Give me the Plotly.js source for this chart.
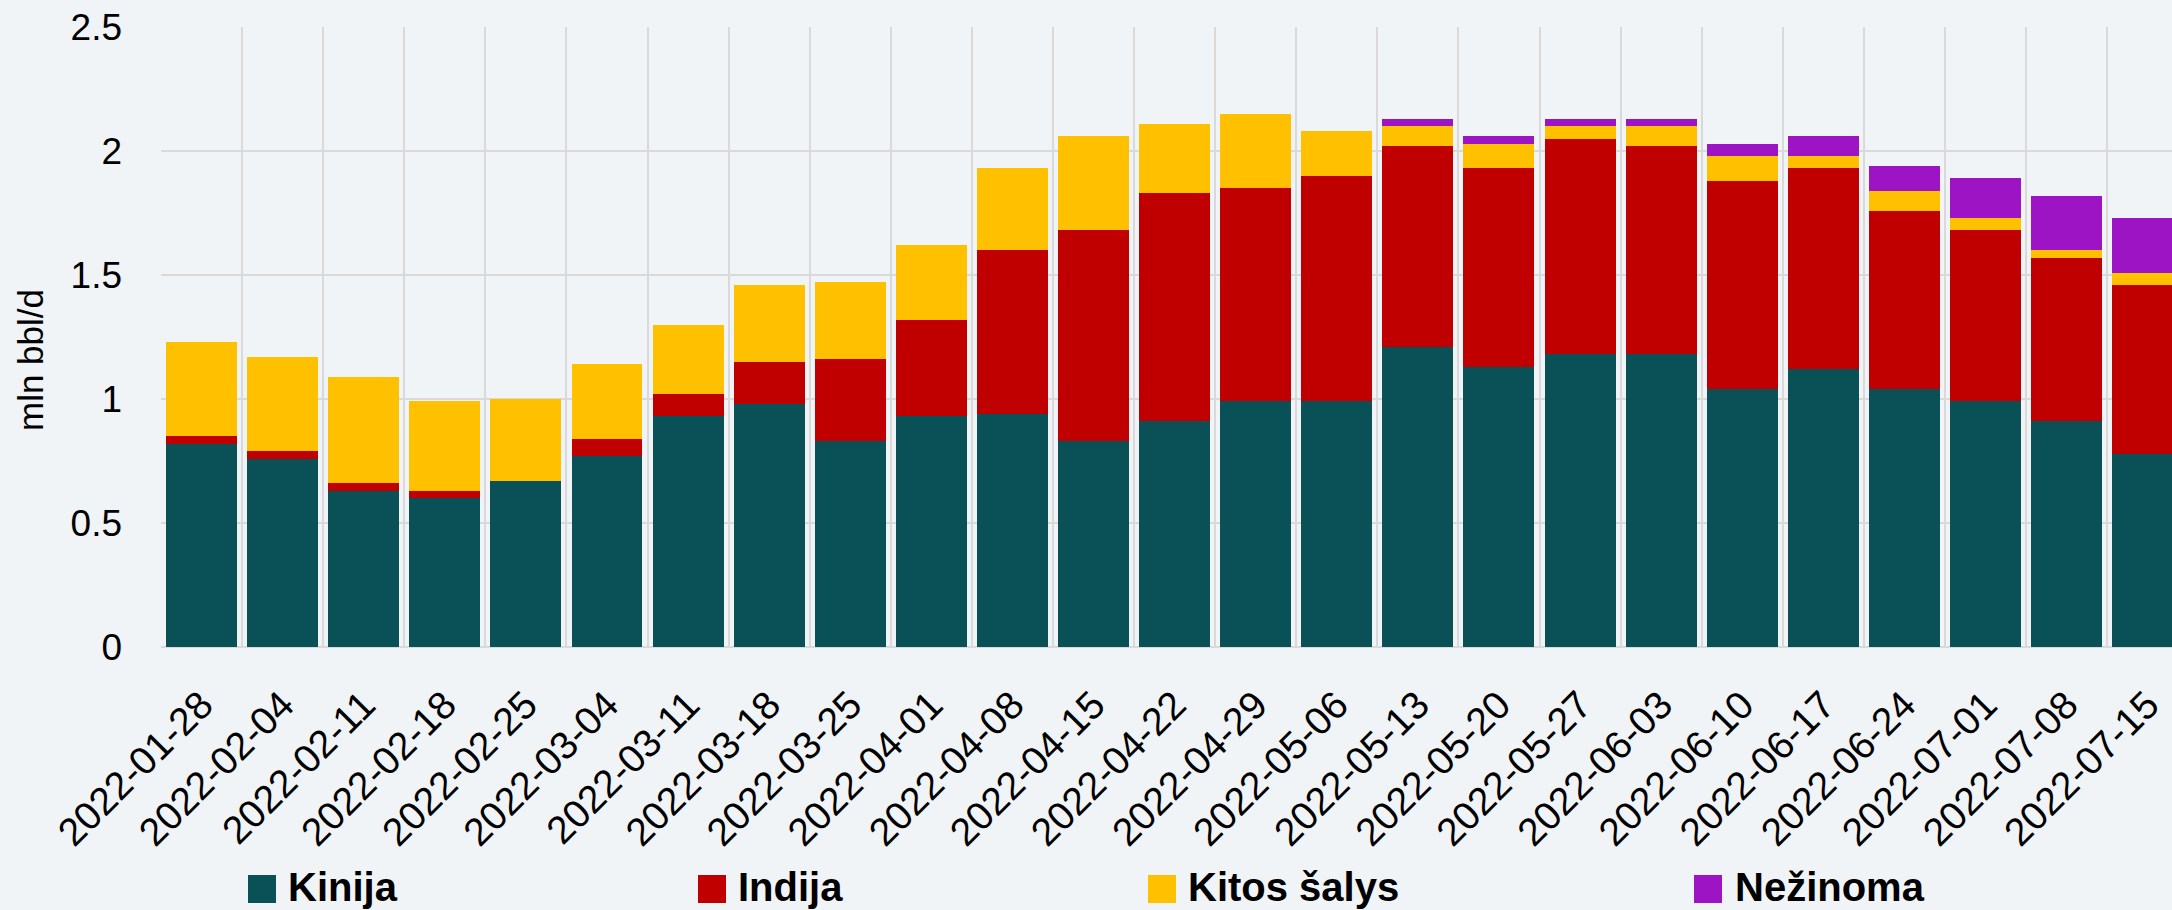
<!DOCTYPE html>
<html>
<head>
<meta charset="utf-8">
<script src="https://cdn.plot.ly/plotly-3.0.1.min.js"></script>
<style>
  html, body { margin: 0; padding: 0; background: #f0f4f7; }
  #chart { width: 2172px; height: 910px; }
</style>
</head>
<body>
<div id="chart"></div>
<script>
const weeks = ['2022-01-28','2022-02-04','2022-02-11','2022-02-18','2022-02-25','2022-03-04','2022-03-11','2022-03-18','2022-03-25','2022-04-01','2022-04-08','2022-04-15','2022-04-22','2022-04-29','2022-05-06','2022-05-13','2022-05-20','2022-05-27','2022-06-03','2022-06-10','2022-06-17','2022-06-24','2022-07-01','2022-07-08','2022-07-15'];
const kinija   = [0.82,0.76,0.63,0.60,0.67,0.77,0.93,0.98,0.83,0.93,0.94,0.83,0.91,0.99,0.99,1.21,1.13,1.18,1.18,1.04,1.12,1.04,0.99,0.91,0.78];
const indija   = [0.03,0.03,0.03,0.03,0.00,0.07,0.09,0.17,0.33,0.39,0.66,0.85,0.92,0.86,0.91,0.81,0.80,0.87,0.84,0.84,0.81,0.72,0.69,0.66,0.68];
const kitos    = [0.38,0.38,0.43,0.36,0.33,0.30,0.28,0.31,0.31,0.30,0.33,0.38,0.28,0.30,0.18,0.08,0.10,0.05,0.08,0.10,0.05,0.08,0.05,0.03,0.05];
const nezinoma = [0,0,0,0,0,0,0,0,0,0,0,0,0,0,0,0.03,0.03,0.03,0.03,0.05,0.08,0.10,0.16,0.22,0.22];
const seriesNames = ['Kinija','Indija','Kitos šalys','Nežinoma'];
const yTitle = 'mln bbl/d';

const colors = ['#095057','#c00000','#ffc000','#9c14c4'];
const FONT = '"Liberation Sans", Arial, sans-serif';
const W = 2172, H = 910;
const M = {l: 161, r: 0, t: 27, b: 263};
const pw = W - M.l - M.r, ph = H - M.t - M.b;
const px = x => (x - M.l) / pw;
const py = y => (H - M.b - y) / ph;

const values = [kinija, indija, kitos, nezinoma];
const traces = values.map((v, i) => ({
  type: 'bar',
  name: seriesNames[i],
  x: weeks,
  y: v,
  marker: {color: colors[i], line: {width: 0}},
  hoverinfo: 'x+y+name'
}));

// custom legend (large squares as in the reference)
const legendPos = [
  {sq: 248, tx: 286},
  {sq: 698, tx: 736},
  {sq: 1148, tx: 1186},
  {sq: 1694, tx: 1733}
];
const shapes = [];
const annotations = [];
legendPos.forEach((p, i) => {
  shapes.push({type: 'rect', xref: 'paper', yref: 'paper',
    x0: px(p.sq), x1: px(p.sq + 28), y0: py(903), y1: py(875),
    fillcolor: colors[i], line: {width: 0}});
  annotations.push({xref: 'paper', yref: 'paper', x: px(p.tx), y: py(887),
    xanchor: 'left', yanchor: 'middle', showarrow: false,
    text: '<b>' + seriesNames[i] + '</b>',
    font: {family: FONT, size: 40, color: '#000'}});
});
annotations.push({xref: 'paper', yref: 'paper', x: px(30), y: py(360),
  xanchor: 'center', yanchor: 'middle', showarrow: false, textangle: -90,
  text: yTitle, font: {family: FONT, size: 35, color: '#000'}});

const layout = {
  width: W, height: H,
  margin: {l: M.l, r: M.r, t: M.t, b: M.b, pad: 0},
  paper_bgcolor: '#f0f4f7',
  plot_bgcolor: '#f0f4f7',
  barmode: 'stack',
  bargap: 0.125,
  showlegend: false,
  xaxis: {
    type: 'category',
    range: [-0.5, 24.3],
    tickson: 'boundaries',
    showgrid: true, gridcolor: '#d9d9d9', gridwidth: 2,
    ticks: '', tickangle: -45,
    ticklabelstandoff: 26,
    tickfont: {family: FONT, size: 39, color: '#000'},
    showline: false, zeroline: false
  },
  yaxis: {
    range: [0, 2.5], dtick: 0.5, tick0: 0,
    showgrid: true, gridcolor: '#d9d9d9', gridwidth: 2,
    zeroline: true, zerolinecolor: '#d9d9d9', zerolinewidth: 2,
    ticks: '', ticklabelstandoff: 38,
    tickfont: {family: FONT, size: 37, color: '#000'},
    showline: false
  },
  shapes: shapes,
  annotations: annotations,
  font: {family: FONT}
};

Plotly.newPlot('chart', traces, layout, {displayModeBar: false, staticPlot: true});
</script>
</body>
</html>
